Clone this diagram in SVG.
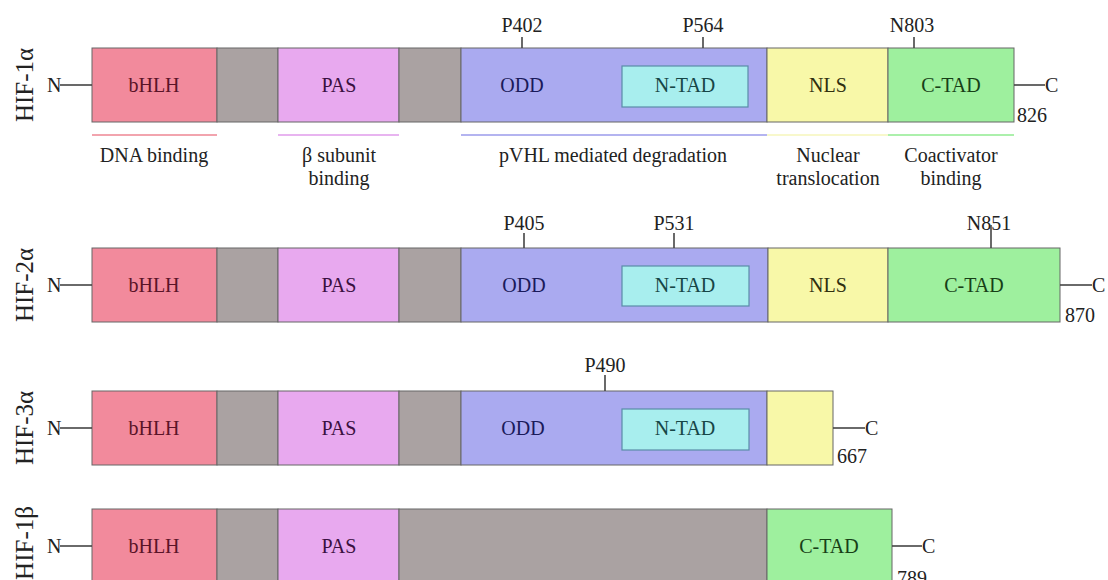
<svg xmlns="http://www.w3.org/2000/svg" width="1108" height="580" viewBox="0 0 1108 580">
<style>
text{font-family:"Liberation Serif","Times New Roman",serif;font-size:20px;fill:#222}
.m{text-anchor:middle}
.dom{stroke:#666;stroke-width:1}
.bhlh{fill:#f28a9c}.gray{fill:#aaa2a2}.pas{fill:#e8a9ef}.odd{fill:#aaaaf0}
.ntad{fill:#a8eeee;stroke:#5a8ca8;stroke-width:1.2}.nls{fill:#f8f8a8}.ctad{fill:#9ef09e}
.tbhlh{fill:#5a1428}.tpas{fill:#3a1040}.todd{fill:#1a1a5a}.tntad{fill:#174646}.tnls{fill:#303010}.tctad{fill:#173f17}
.ln{stroke:#444;stroke-width:1.6;fill:none}
.name{font-size:25px;text-anchor:middle}
</style>

<g id="hif1a">
<text class="name" transform="rotate(-90 33 85)" x="33" y="85">HIF-1α</text>
<g class="dom">
<rect class="bhlh" x="92" y="48" width="125" height="74"/>
<rect class="gray" x="217" y="48" width="61" height="74"/>
<rect class="pas" x="278" y="48" width="121" height="74"/>
<rect class="gray" x="399" y="48" width="62" height="74"/>
<rect class="odd" x="461" y="48" width="306" height="74"/>
<rect class="nls" x="767" y="48" width="121" height="74"/>
<rect class="ctad" x="888" y="48" width="126" height="74"/>
</g>
<rect class="ntad" x="622" y="66" width="126" height="41"/>
<text class="m tbhlh" x="154" y="92">bHLH</text>
<text class="m tpas" x="339" y="92">PAS</text>
<text class="m todd" x="522" y="92">ODD</text>
<text class="m tntad" x="685" y="92">N-TAD</text>
<text class="m tnls" x="828" y="92">NLS</text>
<text class="m tctad" x="951" y="92">C-TAD</text>
<text x="47" y="92">N</text>
<text x="1045" y="92">C</text>
<text x="1017" y="122">826</text>
<text class="m" x="522" y="32">P402</text>
<text class="m" x="703" y="32">P564</text>
<text class="m" x="912" y="32">N803</text>
<line x1="92" y1="135" x2="217" y2="135" stroke="#f2a4ae" stroke-width="2"/>
<line x1="278" y1="135" x2="399" y2="135" stroke="#e8b4f0" stroke-width="2"/>
<line x1="461" y1="135" x2="767" y2="135" stroke="#b4b4f0" stroke-width="2"/>
<line x1="767" y1="135" x2="888" y2="135" stroke="#f8f8cc" stroke-width="2"/>
<line x1="888" y1="135" x2="1014" y2="135" stroke="#acf0ac" stroke-width="2"/>
<text class="m" x="154" y="162">DNA binding</text>
<text class="m" x="339" y="162">β subunit</text>
<text class="m" x="339" y="185">binding</text>
<text class="m" x="613" y="162">pVHL mediated degradation</text>
<text class="m" x="828" y="162">Nuclear</text>
<text class="m" x="828" y="185">translocation</text>
<text class="m" x="951" y="162">Coactivator</text>
<text class="m" x="951" y="185">binding</text>
</g>

<g id="hif2a">
<text class="name" transform="rotate(-90 33 285)" x="33" y="285">HIF-2α</text>
<g class="dom">
<rect class="bhlh" x="92" y="248" width="125" height="74"/>
<rect class="gray" x="217" y="248" width="61" height="74"/>
<rect class="pas" x="278" y="248" width="121" height="74"/>
<rect class="gray" x="399" y="248" width="62" height="74"/>
<rect class="odd" x="461" y="248" width="307" height="74"/>
<rect class="nls" x="768" y="248" width="120" height="74"/>
<rect class="ctad" x="888" y="248" width="172" height="74"/>
</g>
<rect class="ntad" x="622" y="266" width="127" height="40"/>
<text class="m tbhlh" x="154" y="292">bHLH</text>
<text class="m tpas" x="339" y="292">PAS</text>
<text class="m todd" x="524" y="292">ODD</text>
<text class="m tntad" x="685" y="292">N-TAD</text>
<text class="m tnls" x="828" y="292">NLS</text>
<text class="m tctad" x="974" y="292">C-TAD</text>
<text x="47" y="292">N</text>
<text x="1092" y="292">C</text>
<text x="1065" y="322">870</text>
<text class="m" x="524" y="230">P405</text>
<text class="m" x="674" y="230">P531</text>
<text class="m" x="989" y="230">N851</text>
</g>

<g id="hif3a">
<text class="name" transform="rotate(-90 33 428)" x="33" y="428">HIF-3α</text>
<g class="dom">
<rect class="bhlh" x="92" y="391" width="125" height="74"/>
<rect class="gray" x="217" y="391" width="61" height="74"/>
<rect class="pas" x="278" y="391" width="121" height="74"/>
<rect class="gray" x="399" y="391" width="62" height="74"/>
<rect class="odd" x="461" y="391" width="306" height="74"/>
<rect class="nls" x="767" y="391" width="66" height="74"/>
</g>
<rect class="ntad" x="622" y="409" width="127" height="41"/>
<text class="m tbhlh" x="154" y="435">bHLH</text>
<text class="m tpas" x="339" y="435">PAS</text>
<text class="m todd" x="523" y="435">ODD</text>
<text class="m tntad" x="685" y="435">N-TAD</text>
<text x="47" y="435">N</text>
<text x="865" y="435">C</text>
<text x="837" y="463">667</text>
<text class="m" x="605" y="372">P490</text>
</g>

<g id="hif1b">
<text class="name" transform="rotate(-90 33 543)" x="33" y="543">HIF-1β</text>
<g class="dom">
<rect class="bhlh" x="92" y="509" width="125" height="74"/>
<rect class="gray" x="217" y="509" width="61" height="74"/>
<rect class="pas" x="278" y="509" width="121" height="74"/>
<rect class="gray" x="399" y="509" width="368" height="74"/>
<rect class="ctad" x="767" y="509" width="125" height="74"/>
</g>
<text class="m tbhlh" x="154" y="553">bHLH</text>
<text class="m tpas" x="339" y="553">PAS</text>
<text class="m tctad" x="829" y="553">C-TAD</text>
<text x="47" y="553">N</text>
<text x="922" y="553">C</text>
<text x="897" y="585">789</text>
</g>

<g id="connectors">
<line class="ln" x1="60" y1="85" x2="92" y2="85"/>
<line class="ln" x1="1014" y1="85" x2="1045" y2="85"/>
<line class="ln" x1="522" y1="37" x2="522" y2="48"/>
<line class="ln" x1="703" y1="37" x2="703" y2="48"/>
<line class="ln" x1="914" y1="37" x2="914" y2="48"/>
<line class="ln" x1="60" y1="285" x2="92" y2="285"/>
<line class="ln" x1="1060" y1="285" x2="1092" y2="285"/>
<line class="ln" x1="524" y1="233" x2="524" y2="248"/>
<line class="ln" x1="674" y1="233" x2="674" y2="248"/>
<line class="ln" x1="991" y1="225" x2="991" y2="248"/>
<line class="ln" x1="60" y1="428" x2="92" y2="428"/>
<line class="ln" x1="833" y1="428" x2="865" y2="428"/>
<line class="ln" x1="605" y1="375" x2="605" y2="391"/>
<line class="ln" x1="60" y1="546" x2="92" y2="546"/>
<line class="ln" x1="892" y1="546" x2="922" y2="546"/>
</g>
</svg>
